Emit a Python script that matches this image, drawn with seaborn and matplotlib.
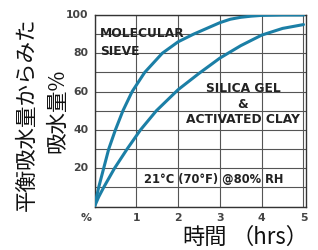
import numpy as np
import pandas as pd
import matplotlib
matplotlib.use("Agg")
import matplotlib.pyplot as plt
import seaborn as sns

# values
sieve_hours = [0, 0.05, 0.10, 0.22, 0.34, 0.50, 0.68, 0.90, 1.2, 1.62, 2.0, 2.37, 3.0, 3.25, 3.5, 3.75, 4.0, 4.5, 5.0]
sieve_pct = [0, 5, 10, 20, 30, 40, 50, 60, 70, 80, 86, 90, 96, 97.8, 98.8, 99.4, 99.8, 100, 100]
silica_hours = [0, 0.1, 0.22, 0.48, 0.78, 1.1, 1.48, 2.0, 2.5, 3.0, 3.5, 4.0, 4.5, 5.0]
silica_pct = [0, 5, 10, 20, 30, 40, 50, 61, 69.5, 77.5, 84, 89.5, 93, 95]
x_ticks = [1, 2, 3, 4, 5]
y_ticks = [20, 40, 60, 80, 100]

sns.set_style("white")
plt.rcParams['font.family'] = ['DejaVu Sans', 'Noto Sans CJK JP']

df = pd.concat([
    pd.DataFrame({"hours": sieve_hours, "pct": sieve_pct, "kind": "sieve"}),
    pd.DataFrame({"hours": silica_hours, "pct": silica_pct, "kind": "silica"}),
])

fig = plt.figure(figsize=(3.18, 2.50), dpi=100)
ax = fig.add_axes([94.5 / 318, 1 - 206.5 / 250, (306 - 94.5) / 318, (206.5 - 15) / 250])

line_col = "#1b7fa6"
sns.lineplot(data=df, x="hours", y="pct", units="kind", estimator=None,
             color=line_col, linewidth=2.2, ax=ax, legend=False, sort=False, zorder=3)

ax.set_xlim(0, 5.06)
ax.set_ylim(0, 100)
ax.set_xticks(range(0, 6))
ax.set_yticks(range(0, 101, 10))
ax.tick_params(length=0, labelbottom=False, labelleft=False)
ax.set_xlabel("")
ax.set_ylabel("")
ax.grid(True, which="major", axis="both", color="#555555", linewidth=0.8, zorder=1)
for s in ax.spines.values():
    s.set_color("#333333")
    s.set_linewidth(1.0)

tick_style = dict(fontsize=7.8, fontweight="bold", color="#444444")
for v in y_ticks:
    ax.text(-0.14, v, str(v), ha="right", va="center", **tick_style)
for v in x_ticks:
    ax.text(v, -6, str(v), ha="center", va="center", **tick_style)
ax.text(-0.2, -6, "%", ha="center", va="center", **tick_style)

lab = dict(fontsize=8.8, fontweight="bold", color="#222222")
ax.text(0.13, 93.5, "MOLECULAR\nSIEVE", ha="left", va="top", linespacing=1.45, **lab)
ax.text(3.55, 65, "SILICA GEL\n&\nACTIVATED CLAY", ha="center", va="top", linespacing=1.25, **lab)
ax.text(2.85, 14, "21°C (70°F) @80% RH", ha="center", va="center",
        fontsize=8.3, fontweight="bold", color="#222222")

jp = ['Noto Sans CJK JP', 'DejaVu Sans']
fig.text(27 / 318, 1 - 114 / 250, "平衡吸水量からみた", rotation=90, ha="center", va="center",
         fontsize=15.5, family=jp, color="#111111")
fig.text(57 / 318, 1 - 111 / 250, "吸水量%", rotation=90, ha="center", va="center",
         fontsize=15.5, family=jp, color="#111111")
fig.text(205 / 318, 1 - 237 / 250, "時間", ha="center", va="center",
         fontsize=16, family=jp, color="#111111")
fig.text(270 / 318, 1 - 237 / 250, "（hrs）", ha="center", va="center",
         fontsize=16, family=jp, color="#111111")

fig.savefig("out.png", dpi=100)
